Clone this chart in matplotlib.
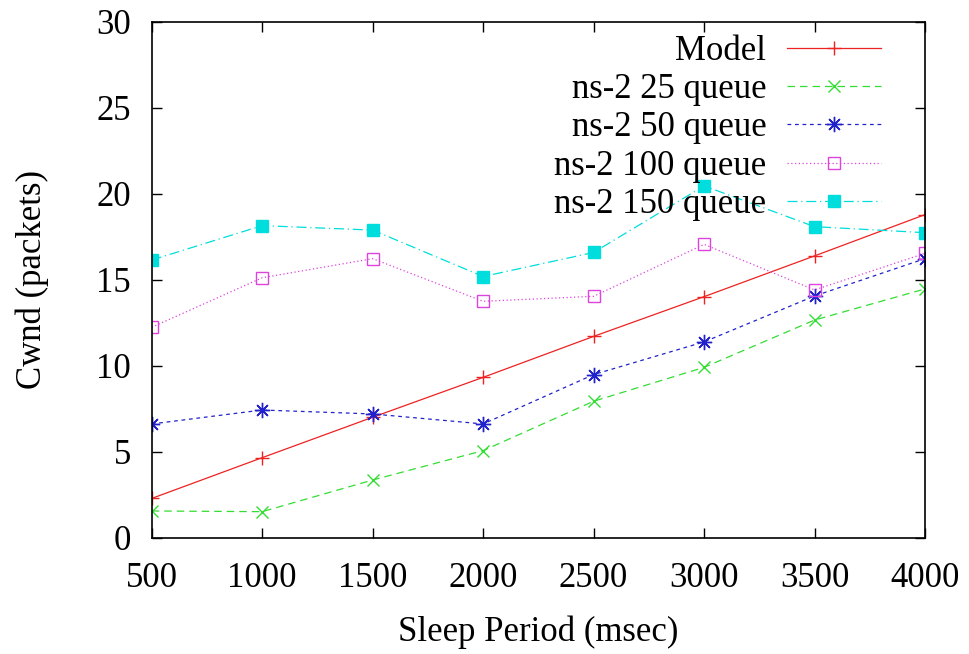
import numpy as np
import matplotlib.pyplot as plt

plt.rcParams['font.family'] = ['Liberation Serif', 'DejaVu Serif']

sleep = [500, 1000, 1500, 2000, 2500, 3000, 3500, 4000]
model = [2.3, 4.67, 7.02, 9.34, 11.72, 14.03, 16.4, 18.8]
q25 = [1.57, 1.53, 3.37, 5.08, 7.95, 9.92, 12.67, 14.48]
q50 = [6.63, 7.44, 7.21, 6.63, 9.5, 11.4, 14.07, 16.24]
q100 = [12.25, 15.13, 16.24, 13.76, 14.05, 17.07, 14.42, 16.55]
q150 = [16.16, 18.16, 17.9, 15.2, 16.6, 20.47, 18.1, 17.75]

fig = plt.figure(figsize=(9.69, 6.54), dpi=100)
ax = fig.add_axes([0.1566, 0.1774, 0.798, 0.789])

lw = 0.9
ax.plot(sleep, model, color='#ee2222', lw=lw, ls='-', marker='+', ms=10, mew=1,
        label='Model')
ax.plot(sleep, q25, color='#33dd33', lw=lw, ls=(0, (6, 4)), marker='x', ms=9, mew=1,
        label='ns-2 25 queue')
ax.plot(sleep, q50, color='#2222cc', lw=lw, ls=(0, (3, 3)), marker=(8, 2, 0), ms=11, mew=1,
        label='ns-2 50 queue')
ax.plot(sleep, q100, color='#dd44dd', lw=lw, ls=(0, (1, 2)), marker='s', ms=9, mew=1,
        mfc='none', label='ns-2 100 queue')
ax.plot(sleep, q150, color='#00dddd', lw=lw, ls=(0, (8, 3, 1, 3)), marker='s', ms=8,
        label='ns-2 150 queue')

ax.set_xlim(500, 4000)
ax.set_ylim(0, 30)
ax.set_xticks(sleep)
ax.set_yticks(np.arange(0, 31, 5))
ax.tick_params(direction='in', length=7, width=1, top=True, right=True,
               labelsize=25)
ax.tick_params(axis='x', pad=17)
ax.tick_params(axis='y', pad=15)
for s in ax.spines.values():
    s.set_linewidth(1.2)

ax.set_xlabel('Sleep Period (msec)', fontsize=25, labelpad=15)
ax.set_ylabel('Cwnd (packets)', fontsize=25, labelpad=34)

ax.legend(loc='upper right', frameon=False, markerfirst=False, fontsize=25,
          handlelength=2.7, labelspacing=0.15, borderaxespad=0.2,
          handletextpad=0.6, bbox_to_anchor=(0.97, 1.015))

fig.savefig('out.png', dpi=100)
